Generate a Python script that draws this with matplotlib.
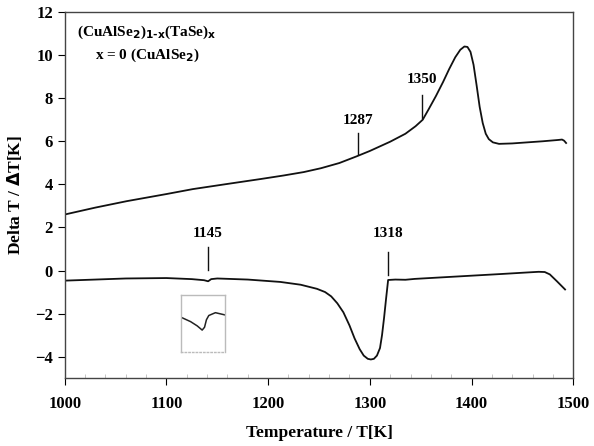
import numpy as np
import matplotlib
matplotlib.use("Agg")
from matplotlib import pyplot as plt
from matplotlib.ticker import MultipleLocator

plt.rcParams['font.family'] = ['Liberation Serif', 'DejaVu Serif']
plt.rcParams['font.weight'] = 'bold'

# heating curve (upper)
t_heat = [1000, 1030, 1061, 1100, 1126, 1160, 1193, 1215, 1235, 1252, 1270, 1287, 1300,
          1320, 1335, 1345, 1352, 1358, 1365, 1372, 1378, 1384, 1389, 1393, 1396, 1399,
          1402, 1405, 1408, 1411, 1414, 1417, 1421, 1427, 1440, 1455, 1470, 1485, 1489,
          1491, 1493]
v_heat = [2.6, 2.92, 3.22, 3.55, 3.78, 4.02, 4.25, 4.41, 4.57, 4.75, 4.99, 5.3, 5.55,
          5.98, 6.35, 6.7, 7.0, 7.5, 8.1, 8.75, 9.35, 9.9, 10.25, 10.4, 10.38, 10.15,
          9.55, 8.6, 7.6, 6.85, 6.35, 6.1, 5.95, 5.88, 5.9, 5.95, 6.0, 6.06, 6.08,
          6.03, 5.92]

# cooling curve (lower)
t_cool = [1000, 1030, 1060, 1100, 1125, 1137, 1141, 1144, 1150, 1180, 1212, 1232, 1248,
          1256, 1262, 1268, 1274, 1280, 1285, 1290, 1294, 1298, 1301, 1304, 1307, 1310,
          1312, 1314, 1316, 1318, 1325, 1335, 1344, 1370, 1400, 1430, 1455, 1466, 1472,
          1477, 1484, 1492]
v_cool = [-0.47, -0.42, -0.37, -0.35, -0.4, -0.45, -0.5, -0.4, -0.37, -0.42, -0.53, -0.66,
          -0.85, -1.0, -1.2, -1.52, -1.94, -2.55, -3.15, -3.65, -3.95, -4.1, -4.13, -4.1,
          -3.95, -3.6, -3.0, -2.2, -1.3, -0.44, -0.42, -0.43, -0.39, -0.32, -0.24, -0.16,
          -0.09, -0.06, -0.07, -0.18, -0.5, -0.88]

# magnified dip around 1145 K
t_zoom = [1130, 1136.3, 1140.8, 1144.2, 1145.8, 1147.1, 1148.7, 1153.2, 1160]
v_zoom = [-0.407, -0.416, -0.425, -0.434, -0.428, -0.412, -0.403, -0.397, -0.402]

# marks: temperature, label, line bottom, line top, label y
marks = [(1288, '1287', 5.43, 6.37, 6.95), (1351, '1350', 7.1, 8.15, 8.85),
         (1141, '1145', 0.03, 1.1, 1.7), (1318, '1318', -0.2, 0.87, 1.7)]

fig = plt.figure(figsize=(5.94, 4.46), dpi=100)
ax = fig.add_axes([0.109, 0.152, 0.856, 0.821])

ax.plot(t_heat, v_heat, color='#111111', lw=1.3)
ax.plot(t_cool, v_cool, color='#111111', lw=1.3)

for t, lab, y0, y1, ly in marks:
    ax.plot([t, t], [y0, y1], color='#111111', lw=1.0)
    ax.text(t, ly, lab, ha='center', va='center', fontsize=11, fontweight='bold')

ax.text(1012, 11.05, r'(CuAlSe$_\mathbf{2}$)$_\mathbf{1\text{-}x}$(TaSe)$_\mathbf{x}$',
        ha='left', va='center', fontsize=11, fontweight='bold')
ax.text(1081, 10.0, r'x = 0 (CuAlSe$_\mathbf{2}$)', ha='center', va='center',
        fontsize=11, fontweight='bold')

ax.set_xlim(1000, 1500)
ax.set_ylim(-5, 12)
ax.xaxis.set_major_locator(MultipleLocator(100))
ax.xaxis.set_minor_locator(MultipleLocator(20))
ax.yaxis.set_major_locator(MultipleLocator(2))
ax.tick_params(axis='both', which='major', direction='out', length=5, labelsize=12)
ax.tick_params(axis='x', which='major', pad=8)
ax.tick_params(axis='x', which='minor', direction='in', length=3, color='#bbbbbb')
for s in ax.spines.values():
    s.set_color('#444444')
    s.set_linewidth(1.0)
ax.set_xlabel('Temperature / T[K]', fontsize=12.5, fontweight='bold', labelpad=9)
ax.set_ylabel(r'Delta T / $\Delta$T[K]', fontsize=12.5, fontweight='bold', labelpad=8)

ins = ax.inset_axes([1114.6, -3.77, 43.4, 2.62], transform=ax.transData)
ins.plot(t_zoom, v_zoom, color='#222222', lw=1.1)
ins.set_xlim(1130, 1160)
ins.set_ylim(-0.48, -0.36)
ins.set_xticks([])
ins.set_yticks([])
for s in ins.spines.values():
    s.set_color('#bbbbbb')
    s.set_linewidth(1.0)
ins.spines['bottom'].set_linestyle(':')

fig.savefig('out.png', dpi=100)
